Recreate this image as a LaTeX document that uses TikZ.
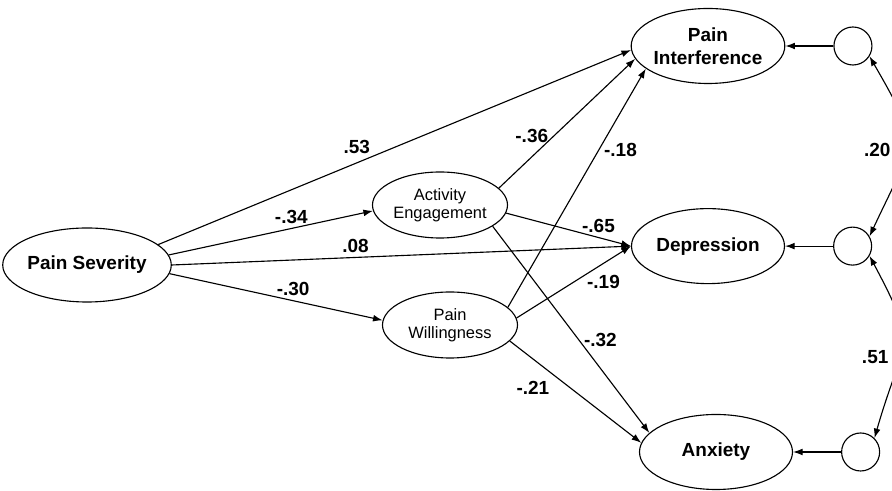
\documentclass[tikz,border=0pt]{standalone}
\usepackage{fontspec}
\setmainfont{Liberation Sans}
\usetikzlibrary{shapes.geometric, arrows.meta, positioning}

\begin{document}
\begin{tikzpicture}[
    font=\fontsize{13.5}{16.4}\selectfont\bfseries,
    base/.style={draw, line width=0.8pt, ellipse, align=center, inner sep=0pt},
    predictor/.style={base, minimum width=3.825cm, minimum height=1.85cm},
    outcome/.style={base, minimum width=3.825cm, minimum height=1.875cm},
    mediator/.style={base, minimum width=3.375cm, minimum height=1.65cm, font=\fontsize{11.7}{13}\selectfont\mdseries},
    resid/.style={draw, line width=0.8pt, circle, minimum size=0.95cm, inner sep=0pt},
    arrow/.style={-{Latex[length=2.4mm, width=1.7mm]}, line width=0.8pt},
    corr/.style={{Latex[length=2.4mm, width=1.7mm]}-{Latex[length=2.4mm, width=1.7mm]}, line width=0.8pt}
]
    \path [use as bounding box, clip] (0,0) rectangle (22.3,12.275);

    \node [predictor] (sev) at (2.175,5.65) {Pain Severity};
    \node [mediator] (acteng) at (11.0,7.15) {Activity\\Engagement};
    \node [mediator] (painwill) at (11.25,4.15) {Pain\\Willingness};

    \node [outcome] (interf) at (17.7,11.125) {Pain\\Interference};
    \node [outcome] (depr) [below=3.1cm of interf] {Depression};
    \node [outcome] (anx) at (17.9,0.975) {Anxiety};

    \node [resid] (e1) [right=1.2cm of interf] {};
    \node [resid] (e2) [right=1.2cm of depr] {};
    \node [resid] (e3) [right=1.2cm of anx] {};


    \draw [arrow] (sev.16) -- node[above=3pt, pos=0.42] {.53} (interf.183);
    \draw [arrow] (sev.7) -- node[above, pos=0.6] {-.34} (acteng.185);
    \draw [arrow] (sev.east) -- node[above, pos=0.4] {.08} (depr.west);
    \draw [arrow] (sev.-6) -- node[above, pos=0.58] {-.30} (painwill.176);

    \draw [arrow] (acteng.16) -- node[left, pos=0.4] {-.36} (interf.190);
    \draw [arrow] (acteng.-7) -- node[above, pos=0.74] {-.65} (depr.west);
    \draw [arrow] (acteng.-22) -- node[right, pos=0.55] {-.32} (anx.164);

    \draw [arrow] (painwill.17) -- node[right, pos=0.66] {-.18} (interf.200);
    \draw [arrow] (painwill.6) -- node[below=5pt, pos=0.76] {-.19} (depr.west);
    \draw [arrow] (painwill.-15) -- node[below left, pos=0.34] {-.21} (anx.173);

    \draw [arrow] (e1) -- (interf);
    \draw [arrow] (e2) -- (depr);
    \draw [arrow] (e3) -- (anx);

    \draw [corr] (e1.-32) to[out=-60, in=65, looseness=1.5] node[left=7pt, pos=0.54] {.20} (e2.30);
    \draw [corr] (e2.-30) to[out=-62, in=74, looseness=1.5] node[left=4.5pt, pos=0.6] {.51} (e3.45);

\end{tikzpicture}
\end{document}
